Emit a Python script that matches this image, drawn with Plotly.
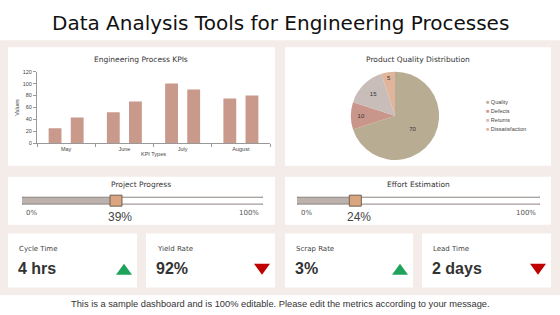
import plotly.graph_objects as go

# ---------------- data ----------------
months = ["May", "June", "July", "August"]
series_a = [25, 52, 100, 75]
series_b = [43, 70, 90, 80]
y_ticks = [0, 20, 40, 60, 80, 100, 120]

pie_labels = ["Quality", "Defects", "Returns", "Dissatisfaction"]
pie_values = [70, 10, 15, 5]
pie_colors = ["#b8ad93", "#c9968b", "#c8bdb9", "#e0b59b"]

progress_titles = ["Project Progress", "Effort Estimation"]
progress_values = [39, 24]

kpi_labels = ["Cycle Time", "Yield Rate", "Scrap Rate", "Lead Time"]
kpi_values = ["4 hrs", "92%", "3%", "2 days"]
kpi_trends = ["up", "down", "up", "down"]

W, H = 560, 315
BG = "#f4ece9"
BAR = "#c99a8c"
GEO = "DejaVu Sans"
ARIAL = "Liberation Sans"


def px(x):
    return x / W


def py(y):
    return 1 - y / H


fig = go.Figure()
shapes = []
ann = []

# background panel
shapes.append(dict(type="rect", xref="paper", yref="paper", x0=0, x1=1, y0=py(298), y1=py(38),
                   fillcolor=BG, line=dict(width=0), layer="below"))


def card(x0, y0, x1, y1):
    shapes.append(dict(type="rect", xref="paper", yref="paper", x0=px(x0), x1=px(x1), y0=py(y1), y1=py(y0),
                       fillcolor="white", line=dict(width=0), layer="below"))


card(8, 45, 275, 166)
card(285, 45, 551, 166)
card(8, 177, 275, 226)
card(285, 177, 551, 226)
kpi_x = [(8, 137), (146, 275), (285, 413), (422, 551)]
for a, b in kpi_x:
    card(a, 235, b, 290)

# title
ann.append(dict(text="Data Analysis Tools for Engineering Processes", x=0.5, y=py(20), xref="paper", yref="paper",
                showarrow=False, font=dict(family=GEO, size=20, color="#111"), xanchor="center", yanchor="middle"))

# ---------------- bar chart ----------------
fig.add_trace(go.Bar(x=months, y=series_a, marker=dict(color=BAR, line=dict(width=0)), showlegend=False,
                     xaxis="x", yaxis="y"))
fig.add_trace(go.Bar(x=months, y=series_b, marker=dict(color=BAR, line=dict(width=0)), showlegend=False,
                     xaxis="x", yaxis="y"))
ann.append(dict(text="Engineering Process KPIs", x=px(141), y=py(58), xref="paper", yref="paper", showarrow=False,
                font=dict(family=GEO, size=7.5, color="#333"), xanchor="center", yanchor="middle"))

# ---------------- pie ----------------
fig.add_trace(go.Pie(labels=pie_labels, values=pie_values, sort=False, direction="clockwise", rotation=0,
                     marker=dict(colors=pie_colors, line=dict(width=0)),
                     textinfo="value", textposition="inside", insidetextorientation="horizontal",
                     textfont=dict(family=ARIAL, size=6, color="#333"),
                     domain=dict(x=[px(350), px(440)], y=[py(160), py(70)]), showlegend=False,
                     hoverinfo="label+value"))
ann.append(dict(text="Product Quality Distribution", x=px(418), y=py(58), xref="paper", yref="paper",
                showarrow=False, font=dict(family=GEO, size=7.5, color="#333"), xanchor="center", yanchor="middle"))
# compact legend
for i, (lab, col) in enumerate(zip(pie_labels, pie_colors)):
    yy = 101 + 9 * i
    ann.append(dict(text="<span style='color:%s'>■</span> %s" % (col, lab), x=px(484), y=py(yy),
                    xref="paper", yref="paper", showarrow=False, xanchor="left", yanchor="middle",
                    font=dict(family=ARIAL, size=5.5, color="#444")))

# ---------------- progress sliders ----------------
slider_geo = [(22, 263, 141), (297, 540, 418)]
track_y0, track_y1 = 198, 205
for i, (title, val) in enumerate(zip(progress_titles, progress_values)):
    x0p, x1p, cx = slider_geo[i]
    ax = "x%d" % (i + 2)
    ann.append(dict(text=title, x=px(cx), y=py(185), xref="paper", yref="paper", showarrow=False,
                    font=dict(family=GEO, size=7.5, color="#333"), xanchor="center", yanchor="middle"))
    ymid = py((track_y0 + track_y1) / 2)
    r = (track_y1 - track_y0) / 2
    edge = "#8c8480"
    shapes.append(dict(type="circle", xref=ax, yref="paper", xsizemode="pixel", ysizemode="pixel",
                       xanchor=0, yanchor=ymid, x0=-r, x1=r, y0=-r, y1=r,
                       fillcolor="#bcb1ac", line=dict(color=edge, width=1)))
    shapes.append(dict(type="circle", xref=ax, yref="paper", xsizemode="pixel", ysizemode="pixel",
                       xanchor=100, yanchor=ymid, x0=-r, x1=r, y0=-r, y1=r,
                       fillcolor="white", line=dict(color=edge, width=1)))
    shapes.append(dict(type="rect", xref=ax, yref="paper", x0=0, x1=val, y0=py(track_y1), y1=py(track_y0),
                       fillcolor="#bcb1ac", line=dict(width=0)))
    shapes.append(dict(type="rect", xref=ax, yref="paper", x0=val, x1=100, y0=py(track_y1), y1=py(track_y0),
                       fillcolor="white", line=dict(width=0)))
    for yy in (track_y0, track_y1):
        shapes.append(dict(type="line", xref=ax, yref="paper", x0=0, x1=100, y0=py(yy), y1=py(yy),
                           line=dict(color=edge, width=1)))
    shapes.append(dict(type="rect", xref=ax, yref="paper", xsizemode="pixel", ysizemode="pixel",
                       xanchor=val, yanchor=ymid, x0=-6, x1=6, y0=-5.5, y1=5.5,
                       fillcolor="#d9a47e", line=dict(color="#6f625a", width=1)))
    ann.append(dict(text="0%", x=0, y=py(214), xref=ax, yref="paper", showarrow=False, xshift=9,
                    font=dict(family=GEO, size=7, color="#555"), xanchor="center", yanchor="middle"))
    ann.append(dict(text="100%", x=100, y=py(214), xref=ax, yref="paper", showarrow=False, xshift=-14,
                    font=dict(family=GEO, size=7, color="#555"), xanchor="center", yanchor="middle"))
    ann.append(dict(text="%d%%" % val, x=val, y=py(218), xref=ax, yref="paper", showarrow=False, xshift=4,
                    font=dict(family=ARIAL, size=12, color="#444"), xanchor="center", yanchor="middle"))

# ---------------- KPI cards ----------------
for (a, b), lab, val, tr in zip(kpi_x, kpi_labels, kpi_values, kpi_trends):
    ann.append(dict(text=lab, x=px(a + 9), y=py(251), xref="paper", yref="paper", showarrow=False,
                    font=dict(family=GEO, size=7, color="#444"), xanchor="left", yanchor="middle"))
    ann.append(dict(text="<b>%s</b>" % val, x=px(a + 8), y=py(271), xref="paper", yref="paper", showarrow=False,
                    font=dict(family=ARIAL, size=16, color="#333"), xanchor="left", yanchor="middle"))
    if tr == "up":
        path = "M -8,-5 L 8,-5 L 0,6 Z"
        col = "#1ea35a"
    else:
        path = "M -8,6 L 8,6 L 0,-5 Z"
        col = "#c00000"
    shapes.append(dict(type="path", xref="paper", yref="paper", xsizemode="pixel", ysizemode="pixel",
                       xanchor=px(b - 13), yanchor=py(272), path=path, fillcolor=col, line=dict(width=0)))

# footnote
ann.append(dict(text="This is a sample dashboard and is 100% editable. Please edit the metrics according to your message.",
                x=0.5, y=py(307), xref="paper", yref="paper", showarrow=False,
                font=dict(family=ARIAL, size=9.3, color="#333"), xanchor="center", yanchor="middle"))

axis_font = dict(family=ARIAL, size=5.5, color="#444")
fig.update_layout(
    width=W, height=H, margin=dict(l=0, r=0, t=0, b=0),
    paper_bgcolor="white", plot_bgcolor="rgba(0,0,0,0)",
    barmode="group", bargap=0.24, bargroupgap=0.42,
    xaxis=dict(domain=[px(37), px(270)], showgrid=False, showline=True, linecolor="#999", linewidth=1,
               ticks="outside", ticklen=3, tickcolor="#999", tickson="boundaries", tickfont=axis_font,
               title=dict(text="KPI Types", font=axis_font, standoff=1), fixedrange=True),
    yaxis=dict(domain=[py(143), py(70)], range=[0, 120], tickvals=y_ticks, showgrid=False, zeroline=False,
               showline=True, linecolor="#999", linewidth=1, ticks="outside", ticklen=3, tickcolor="#999",
               tickfont=axis_font, title=dict(text="Values", font=axis_font, standoff=2), fixedrange=True),
    xaxis2=dict(domain=[px(22), px(263)], range=[0, 100], visible=False, anchor="y2"),
    yaxis2=dict(domain=[0.3, 0.31], range=[0, 1], visible=False, anchor="x2"),
    xaxis3=dict(domain=[px(297), px(540)], range=[0, 100], visible=False, anchor="y2"),
    showlegend=False,
    shapes=shapes, annotations=ann,
)
fig.write_html("out.html")
